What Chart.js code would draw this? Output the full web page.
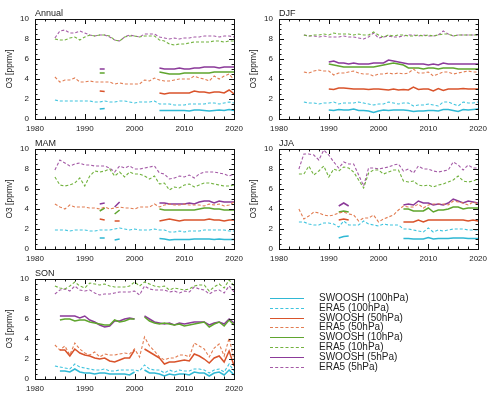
<!DOCTYPE html>
<html>
<head>
<meta charset="utf-8">
<script src="https://cdn.jsdelivr.net/npm/chart.js@4.4.1/dist/chart.umd.min.js"></script>
<style>
body { margin: 0; background: #fff; }
#page { position: relative; width: 497px; height: 405px; overflow: hidden; font-family: "Liberation Sans", Arial, sans-serif; }
.panel { position: absolute; }
#legend { position: absolute; left: 270px; top: 293px; }
.row { position: relative; height: 9.8px; }
.row .ln { position: absolute; left: 0; top: 5px; width: 34px; height: 0; }
.row .tx { position: absolute; left: 49px; top: -1px; font-size: 10px; line-height: 12px; color: #222; white-space: nowrap; }
</style>
</head>
<body>
<div id="page">
  <canvas class="panel" id="annual" width="248" height="135" style="left:0;top:0"></canvas>
  <canvas class="panel" id="djf" width="248" height="135" style="left:244px;top:0"></canvas>
  <canvas class="panel" id="mam" width="248" height="135" style="left:0;top:130px"></canvas>
  <canvas class="panel" id="jja" width="248" height="135" style="left:244px;top:130px"></canvas>
  <canvas class="panel" id="son" width="248" height="135" style="left:0;top:260px"></canvas>
  <div id="legend"></div>
</div>
<script>
const _ = null;
const years = [];
for (let y = 1984; y <= 2020; y++) years.push(y);

const seriesNames = ['SWOOSH (100hPa)', 'ERA5 (100hPa)', 'SWOOSH (50hPa)', 'ERA5 (50hPa)',
                     'SWOOSH (10hPa)', 'ERA5 (10hPa)', 'SWOOSH (5hPa)', 'ERA5 (5hPa)'];
const seriesColors = ['#2fb8d4', '#3ec4de', '#d9532b', '#e27d52', '#5fa52e', '#72b23e', '#8b3a99', '#a45aa6'];

// ---- Annual ----
const annualSw100 = [_,_,_,_,_,_,_,_,_,1.0, 1.05,_,_,_,_,_,_,_,_,_, _,0.85,0.85,0.85,0.85,0.85,0.85,0.8,0.9,0.9, 0.85,0.8,0.85,0.9,0.85,0.95,0.85];
const annualEra100 = [1.9,1.8,1.8,1.8,1.8,1.8,1.8,1.8,1.7,1.7, 1.8,1.7,1.7,1.8,1.8,1.7,1.6,1.7,1.7,1.7, 1.8,1.5,1.5,1.5,1.4,1.4,1.4,1.5,1.5,1.5, 1.5,1.6,1.6,1.5,1.6,1.7,1.6];
const annualSw50 = [_,_,_,_,_,_,_,_,_,2.8, 2.75,_,_,_,_,_,_,_,_,_, _,2.6,2.5,2.6,2.6,2.6,2.6,2.6,2.8,2.7, 2.7,2.6,2.7,2.7,2.6,2.9,2.5];
const annualEra50 = [4.2,3.7,3.9,3.9,4.1,3.7,3.7,3.8,3.7,3.7, 3.7,3.7,3.5,3.6,3.5,3.5,3.5,3.5,3.9,3.8, 4.1,3.9,3.8,3.8,3.9,4.0,4.0,4.0,4.3,4.1, 4.0,3.8,4.3,4.0,4.3,4.5,3.9];
const annualSw10 = [_,_,_,_,_,_,_,_,_,4.6, 4.6,_,_,_,_,_,_,_,_,_, _,4.7,4.6,4.5,4.5,4.5,4.6,4.6,4.6,4.6, 4.6,4.6,4.7,4.7,4.7,4.7,4.7];
const annualEra10 = [8.0,7.9,7.9,8.1,8.2,7.9,8.2,8.4,8.3,8.4, 8.4,8.3,7.9,7.8,8.2,8.3,8.3,8.2,8.3,8.3, 8.3,7.9,7.8,7.5,7.4,7.5,7.5,7.6,7.7,7.7, 7.7,7.7,7.8,7.8,7.7,7.8,7.8];
const annualSw5 = [_,_,_,_,_,_,_,_,_,5.0, 5.0,_,_,_,_,_,_,_,_,_, _,5.1,5.0,5.0,5.0,5.1,5.0,5.0,5.1,5.1, 5.2,5.2,5.2,5.1,5.2,5.2,5.2];
const annualEra5 = [8.1,8.8,8.9,8.6,8.6,8.8,8.6,8.4,8.3,8.4, 8.4,8.2,7.9,7.8,8.2,8.4,8.3,8.2,8.5,8.5, 8.5,8.2,8.1,8.0,8.1,8.0,8.1,8.1,8.2,8.2, 8.3,8.3,8.3,8.2,8.3,8.3,8.2];

// ---- DJF ----
const djfSw100 = [_,_,_,_,_,_,0.9,0.85,0.95,0.9, 0.9,1.0,0.85,0.85,0.8,0.65,0.8,0.9,0.85,0.9, 0.9,0.9,0.85,0.75,0.8,0.8,0.85,0.85,0.8,0.95, 0.95,0.85,0.75,0.95,0.9,0.95,1.0];
const djfEra100 = [_,1.7,1.6,1.6,1.5,1.6,1.6,1.7,1.5,1.6, 1.6,1.6,1.7,1.6,1.5,1.4,1.5,1.5,1.7,1.6, 1.5,1.6,1.6,1.3,1.4,1.4,1.5,1.4,1.3,1.7, 1.7,1.5,1.3,1.7,1.6,1.6,1.7];
const djfSw50 = [_,_,_,_,_,_,3.0,2.95,3.1,3.1, 3.05,3.0,3.0,3.0,2.95,3.0,3.0,2.95,2.9,3.0, 2.9,2.95,2.9,3.2,2.95,3.0,3.0,2.8,3.05,2.85, 3.0,3.0,3.0,3.05,3.0,3.0,3.0];
const djfEra50 = [_,4.7,4.6,4.8,4.9,4.8,4.8,4.4,4.6,4.6, 4.7,4.8,4.6,4.5,4.5,4.3,4.5,4.5,4.6,4.5, 4.6,4.5,4.6,5.0,4.6,4.6,4.7,4.3,4.5,4.7, 4.7,4.5,4.6,4.7,4.8,4.7,4.7];
const djfSw10 = [_,_,_,_,_,_,5.5,5.4,5.3,5.2, 5.2,5.2,5.2,5.2,5.2,5.2,5.3,5.4,5.5,5.6, 5.5,5.4,5.1,5.1,5.1,5.0,5.1,5.1,5.0,5.1, 5.1,5.1,5.0,5.0,5.0,5.0,5.0];
const djfEra10 = [_,8.4,8.3,8.4,8.4,8.5,8.4,8.6,8.5,8.5, 8.5,8.4,8.5,8.4,8.4,8.7,8.4,8.2,8.4,8.3, 8.4,8.4,8.3,8.3,8.4,8.3,8.4,8.3,8.4,8.5, 8.5,8.3,8.4,8.4,8.4,8.4,8.4];
const djfSw5 = [_,_,_,_,_,_,5.7,5.8,5.6,5.6, 5.5,5.6,5.5,5.5,5.5,5.6,5.6,5.6,5.9,5.8, 5.7,5.6,5.5,5.5,5.5,5.5,5.4,5.5,5.4,5.6, 5.5,5.5,5.5,5.5,5.5,5.5,5.5];
const djfEra5 = [_,8.4,8.3,8.3,8.2,8.3,8.2,8.2,8.2,8.3, 8.2,8.2,8.1,8.0,8.2,8.6,8.1,8.2,8.3,8.2, 8.2,8.3,8.4,8.4,8.3,8.4,8.3,8.3,8.4,8.8, 8.5,8.3,8.4,8.4,8.4,8.4,8.4];

// ---- MAM ----
const mamSw100 = [_,_,_,_,_,_,_,_,_,1.1, 1.1,_,0.9,1.0,_,_,_,_,_,_, _,1.05,1.0,0.9,0.95,0.95,0.95,0.95,1.0,1.0, 1.0,1.0,0.95,1.0,0.95,0.95,0.95];
const mamEra100 = [1.9,1.9,1.9,1.8,1.9,1.9,1.9,1.8,1.8,1.9, 1.9,1.9,2.0,2.1,2.0,1.9,2.0,1.9,1.9,1.9, 2.0,1.9,1.9,1.7,1.7,1.8,1.7,1.8,1.8,1.8, 1.9,1.9,1.9,1.9,1.9,1.8,1.8];
const mamSw50 = [_,_,_,_,_,_,_,_,_,3.0, 2.9,_,2.8,2.8,_,_,_,_,_,_, _,2.8,2.9,3.0,2.9,2.8,2.9,2.9,2.9,2.9, 2.9,3.0,2.9,2.9,2.8,2.9,2.9];
const mamEra50 = [4.5,4.2,4.0,4.4,4.2,4.2,4.2,4.1,4.1,4.0, 4.2,4.0,4.1,4.2,4.1,4.1,4.0,4.2,4.2,4.2, 4.5,4.2,4.4,4.5,4.4,4.4,4.5,4.4,4.4,4.4, 4.3,4.5,4.4,4.5,4.3,4.4,4.7];
const mamSw10 = [_,_,_,_,_,_,_,_,_,3.8, 4.1,_,3.5,3.9,_,_,_,_,_,_, _,4.0,3.9,3.9,3.9,3.9,3.9,3.9,3.9,4.0, 4.1,4.1,4.0,4.0,3.9,3.9,3.9];
const mamEra10 = [7.2,6.4,6.3,6.4,6.6,7.1,6.3,7.3,7.8,7.7, 7.8,8.0,7.3,7.7,7.2,7.7,7.5,7.5,7.3,7.0, 7.3,6.5,6.6,5.9,6.2,6.1,6.4,6.5,6.2,6.4, 6.6,6.6,6.5,6.4,6.3,6.3,6.4];
const mamSw5 = [_,_,_,_,_,_,_,_,_,4.5, 4.6,_,4.2,4.7,_,_,_,_,_,_, _,4.6,4.6,4.5,4.5,4.5,4.5,4.6,4.5,4.7, 4.8,4.8,4.6,4.8,4.7,4.7,4.7];
const mamEra5 = [7.9,8.9,8.6,8.3,8.5,8.6,8.4,8.4,8.3,8.3, 8.3,8.1,7.7,8.3,8.1,8.3,8.0,8.0,8.1,8.2, 8.3,7.6,7.5,7.0,7.1,7.3,7.2,7.4,7.1,7.5, 7.7,7.7,7.7,7.6,7.5,7.3,7.5];

// ---- JJA ----
const jjaSw100 = [_,_,_,_,_,_,_,_,1.1,1.25, 1.3,_,_,_,_,_,_,_,_,_, _,1.05,1.05,1.0,1.0,1.0,1.15,1.0,1.05,1.05, 1.05,1.1,1.1,1.1,1.05,1.05,1.05];
const jjaEra100 = [2.7,2.7,2.5,2.4,2.4,2.6,2.6,2.5,2.2,2.8, 2.4,2.4,2.4,2.8,2.5,2.4,2.3,2.5,2.4,2.4, 2.4,2.0,2.0,1.9,1.8,1.7,2.1,1.7,1.9,1.8, 1.9,2.0,2.0,2.0,1.9,1.9,1.9];
const jjaSw50 = [_,_,_,_,_,_,_,_,2.9,3.0, 2.9,_,_,_,_,_,_,_,_,_, _,2.7,2.7,2.7,2.9,2.7,2.9,2.9,2.9,2.9, 2.9,2.9,2.9,2.9,2.8,2.9,2.8];
const jjaEra50 = [4.0,3.0,3.3,3.7,3.6,3.4,3.3,3.4,3.6,3.7, 3.5,3.4,2.8,3.1,3.1,3.4,2.7,3.0,3.2,3.4, 3.9,4.3,4.2,4.2,4.5,4.1,4.4,4.5,4.5,4.5, 4.4,4.8,4.7,4.6,4.4,4.7,4.5];
const jjaSw10 = [_,_,_,_,_,_,_,_,3.7,3.8, 3.7,_,_,_,_,_,_,_,_,_, _,4.0,4.0,3.8,3.8,3.8,4.1,3.7,3.9,3.9, 4.0,4.2,4.2,4.0,4.1,4.1,4.1];
const jjaEra10 = [7.5,7.5,8.3,7.4,7.8,8.3,7.2,8.0,7.8,8.2, 8.1,7.7,6.9,6.1,7.6,7.9,7.9,7.5,7.7,7.9, 7.9,6.8,6.7,6.8,6.4,6.3,6.4,6.2,6.4,6.5, 6.7,6.9,7.3,6.8,6.7,6.8,7.0];
const jjaSw5 = [_,_,_,_,_,_,_,_,4.3,4.6, 4.3,_,_,_,_,_,_,_,_,_, _,4.4,4.5,4.4,4.8,4.6,4.6,4.4,4.5,4.4, 4.6,5.0,4.8,4.6,4.8,4.7,4.6];
const jjaEra5 = [8.0,9.5,9.5,9.4,8.9,9.9,9.4,8.7,8.1,8.7, 8.5,8.5,7.4,6.3,8.1,8.1,8.0,8.1,8.2,8.4, 8.5,7.8,8.0,7.6,8.3,8.0,8.0,7.8,7.7,7.8, 7.9,8.7,8.4,7.9,8.4,8.1,8.1];

// ---- SON ----
const sonSw100 = [_,0.8,0.8,0.7,1.0,0.7,0.6,0.6,0.5,0.6, 0.6,0.5,0.5,0.5,0.5,0.4,0.7,_,0.9,0.6, 0.6,0.5,0.3,0.5,0.4,0.5,0.5,0.4,0.7,0.6, 0.6,0.3,0.6,0.7,0.4,0.9,0.4];
const sonEra100 = [1.3,1.2,1.1,1.0,1.5,1.2,1.1,1.0,0.9,0.9, 1.0,0.8,0.8,0.9,0.9,0.9,0.9,0.8,1.4,1.0, 0.9,0.9,0.6,0.9,0.7,0.9,0.8,0.8,1.0,1.0, 0.9,0.6,0.9,1.0,0.7,1.5,0.8];
const sonSw50 = [_,2.9,2.9,2.3,3.0,2.6,2.4,2.3,2.1,2.0, 2.1,1.8,1.7,1.9,2.1,2.1,2.9,_,3.0,2.7, 2.4,2.1,1.5,1.7,1.7,1.8,1.9,1.8,2.5,2.3, 2.0,1.6,2.1,2.3,1.7,2.8,1.3];
const sonEra50 = [3.4,2.9,3.3,2.4,3.6,3.0,2.6,2.4,2.7,2.2, 2.5,2.4,2.4,2.5,2.6,2.5,3.0,2.2,4.2,3.3, 2.8,2.2,1.9,2.1,2.1,2.4,2.4,2.2,3.6,3.3, 3.0,2.2,3.1,3.5,2.3,4.1,1.9];
const sonSw10 = [_,5.9,6.0,6.0,5.8,5.9,5.9,5.7,5.6,5.5, 5.4,5.4,5.9,5.7,5.8,6.0,6.0,_,6.2,5.8, 5.6,5.5,5.6,5.5,5.4,5.5,5.3,5.4,5.5,5.6, 5.7,5.2,5.5,5.7,5.3,5.9,5.4];
const sonEra10 = [9.3,9.1,9.0,9.3,9.7,9.3,9.1,9.6,9.5,9.4, 9.5,9.3,9.2,9.2,9.2,9.3,9.7,9.3,9.7,9.5, 9.3,9.2,9.3,8.9,9.1,9.0,8.9,9.0,9.3,9.4, 9.4,8.8,9.2,9.5,9.1,9.9,9.3];
const sonSw5 = [_,6.3,6.3,6.3,6.3,6.1,6.3,5.9,5.7,5.4, 5.2,5.3,5.8,5.8,6.0,6.1,6.0,_,6.3,6.0, 5.7,5.6,5.5,5.6,5.4,5.6,5.5,5.6,5.7,5.7, 5.7,5.4,5.6,5.7,5.5,6.0,5.6];
const sonEra5 = [8.5,8.9,9.0,8.8,9.3,8.9,8.8,8.9,8.6,8.4, 8.5,8.5,8.6,8.7,8.7,8.7,8.8,8.4,9.3,9.0, 8.9,8.9,8.9,8.7,8.8,8.6,8.8,8.7,9.2,9.0, 8.9,8.5,8.8,8.9,8.6,9.3,8.7];

const panels = [
  { id: 'annual', label: 'Annual', data: [annualSw100, annualEra100, annualSw50, annualEra50, annualSw10, annualEra10, annualSw5, annualEra5] },
  { id: 'djf', label: 'DJF', data: [djfSw100, djfEra100, djfSw50, djfEra50, djfSw10, djfEra10, djfSw5, djfEra5] },
  { id: 'mam', label: 'MAM', data: [mamSw100, mamEra100, mamSw50, mamEra50, mamSw10, mamEra10, mamSw5, mamEra5] },
  { id: 'jja', label: 'JJA', data: [jjaSw100, jjaEra100, jjaSw50, jjaEra50, jjaSw10, jjaEra10, jjaSw5, jjaEra5] },
  { id: 'son', label: 'SON', data: [sonSw100, sonEra100, sonSw50, sonEra50, sonSw10, sonEra10, sonSw5, sonEra5] }
];

// frame with inward ticks on all sides + panel label
const frameTicks = {
  id: 'frameTicks',
  afterDraw(chart, args, opts) {
    const ctx = chart.ctx, a = chart.chartArea;
    const xs = chart.scales.x, ys = chart.scales.y;
    ctx.save();
    ctx.strokeStyle = '#111';
    ctx.lineWidth = 1;
    ctx.strokeRect(Math.round(a.left) + 0.5, Math.round(a.top) + 0.5,
                   Math.round(a.right - a.left), Math.round(a.bottom - a.top));
    ctx.beginPath();
    for (let v = 1980; v <= 2020; v += 2) {
      const px = Math.round(xs.getPixelForValue(v)) + 0.5;
      const len = v % 10 === 0 ? 5 : 2.5;
      ctx.moveTo(px, a.bottom); ctx.lineTo(px, a.bottom - len);
      ctx.moveTo(px, a.top); ctx.lineTo(px, a.top + len);
    }
    for (let v = 0; v <= 10; v += 0.5) {
      const py = Math.round(ys.getPixelForValue(v)) + 0.5;
      const len = v % 2 === 0 ? 5 : 2.5;
      ctx.moveTo(a.left, py); ctx.lineTo(a.left + len, py);
      ctx.moveTo(a.right, py); ctx.lineTo(a.right - len, py);
    }
    ctx.stroke();
    ctx.fillStyle = '#222';
    ctx.font = '9px "Liberation Sans", Arial, sans-serif';
    ctx.textBaseline = 'bottom';
    ctx.textAlign = 'left';
    ctx.fillText(opts.label, a.left, a.top - 1);
    ctx.restore();
  }
};

const tickFont = { family: '"Liberation Sans", Arial, sans-serif', size: 8 };

panels.forEach(p => {
  const datasets = p.data.map((vals, i) => ({
    label: seriesNames[i],
    data: years.map((y, k) => ({ x: y, y: vals[k] })),
    borderColor: seriesColors[i],
    borderWidth: i % 2 === 0 ? 1.5 : 1.1,
    borderDash: i % 2 === 0 ? [] : [3, 2],
    pointRadius: 0,
    fill: false,
    spanGaps: false,
    tension: 0
  }));
  new Chart(document.getElementById(p.id), {
    type: 'line',
    data: { datasets },
    plugins: [frameTicks],
    options: {
      responsive: false,
      animation: false,
      events: [],
      layout: { padding: { top: 19, right: 12, bottom: 2, left: 5 } },
      plugins: {
        legend: { display: false },
        tooltip: { enabled: false },
        frameTicks: { label: p.label }
      },
      scales: {
        x: {
          type: 'linear', min: 1980, max: 2020,
          grid: { display: false, drawTicks: false }, border: { display: false },
          ticks: { stepSize: 10, font: tickFont, color: '#222', padding: 5, maxRotation: 0,
                   callback: v => String(v) },
          afterFit: s => { s.height = 14; }
        },
        y: {
          min: 0, max: 10,
          grid: { display: false, drawTicks: false }, border: { display: false },
          ticks: { stepSize: 2, font: tickFont, color: '#222', padding: 6 },
          title: { display: true, text: 'O3 [ppmv]', font: { family: '"Liberation Sans", Arial, sans-serif', size: 8.5 }, color: '#222', padding: 0 },
          afterFit: s => { s.width = 30; }
        }
      }
    }
  });
});

// legend
const legend = document.getElementById('legend');
seriesNames.forEach((name, i) => {
  const row = document.createElement('div');
  row.className = 'row';
  const ln = document.createElement('div');
  ln.className = 'ln';
  ln.style.borderTop = (i % 2 === 0 ? '1.5px solid ' : '1px dashed ') + seriesColors[i];
  const tx = document.createElement('div');
  tx.className = 'tx';
  tx.textContent = name;
  row.appendChild(ln); row.appendChild(tx);
  legend.appendChild(row);
});
</script>
</body>
</html>
